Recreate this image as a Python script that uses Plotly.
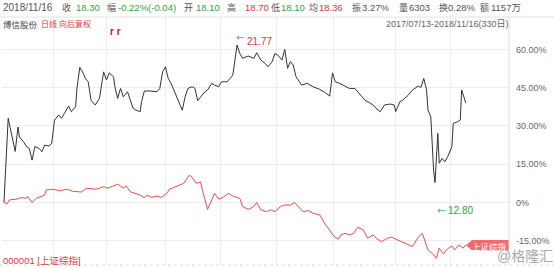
import plotly.graph_objects as go

# ---------------- data ----------------
stock_days = [0, 3, 8, 10, 11, 14, 16, 18, 20, 22, 25, 27, 29, 32, 34, 36, 39, 41, 43, 46, 48, 51, 52, 54,
              56, 58, 60, 62, 65, 66, 68, 71, 73, 75, 78, 79, 81, 83, 85, 88, 90, 92, 94, 97, 98, 100, 104,
              109, 111, 113, 115, 117, 119, 122, 124, 127, 129, 131, 134, 136, 138, 141, 143, 145, 148, 150,
              153, 155, 159, 161, 163, 166, 168, 170, 174, 178, 180, 183, 186, 188, 191, 193, 195, 198, 200,
              202, 204, 206, 208, 212, 216, 220, 225, 229, 232, 234, 236, 239, 243, 246, 250, 254, 257, 261,
              263, 265, 268, 271, 275, 278, 279, 282, 284, 288, 291, 295, 297, 299, 301, 302, 304, 305, 306,
              307, 308, 309, 310, 312, 314, 316, 319, 320, 323, 325, 326, 328, 329]
stock_pct = [0, 33, 20, 29.6, 25.7, 23.8, 21.9, 21.2, 16.6, 21.9, 21.2, 19.9, 22.5, 22.1, 23.2, 32.3, 34.3,
             33, 34.9, 37.8, 35.6, 37.5, 44.7, 53, 51.2, 48.6, 47.3, 40.1, 38.2, 39.1, 40.8, 51.2, 48, 50.8,
             49.3, 45.4, 40.8, 44.7, 41.4, 43.4, 40.1, 36.9, 36.2, 35.6, 39.5, 43.7, 43.7, 43.4, 44.7, 51.2,
             53.2, 48.6, 46.7, 42.8, 40.1, 36.2, 41.4, 44.7, 45.4, 44.7, 39.9, 42.1, 43.4, 44.1, 46.7, 46,
             45.4, 47.3, 47.3, 48.6, 49.9, 61.7, 58.4, 56.5, 57.4, 56.5, 58.7, 55.8, 54.5, 53.2, 55.2, 58.4,
             57.8, 55.8, 60, 52.6, 55.2, 53.9, 49.3, 46, 46.7, 45.4, 44.3, 43, 41.7, 50.8, 47.3, 46.7, 45.4,
             44.7, 44.7, 42.1, 40.1, 38.9, 38.2, 36.9, 35.6, 38.2, 38.6, 38.2, 35.6, 39.5, 40.1, 42.1, 44.1,
             45.6, 45.1, 48.6, 44.1, 36.2, 33.6, 23.2, 12.7, 7.8, 19.3, 27.1, 15.4, 17.3, 16, 17.9, 21.9, 31,
             31.6, 32.3, 44.1, 40.1, 38.9]

index_days = [0, 2, 4, 9, 13, 15, 17, 20, 23, 27, 29, 30, 35, 40, 45, 49, 55, 59, 65, 68, 71, 74, 77, 81,
              85, 87, 90, 93, 97, 100, 102, 105, 109, 112, 116, 118, 123, 128, 132, 134, 137, 140, 142, 145,
              148, 150, 153, 156, 160, 163, 168, 170, 174, 178, 180, 183, 187, 190, 193, 197, 200, 204, 207,
              210, 213, 217, 220, 225, 229, 232, 234, 238, 240, 243, 246, 249, 252, 256, 259, 263, 265, 269,
              273, 276, 280, 283, 287, 291, 295, 298, 300, 302, 305, 308, 310, 313, 315, 319, 321, 324, 327,
              329]
index_pct = [0, -0.6, 1, 1.3, 2, 1.6, 2.3, 0, 1.6, 2.3, 2.9, 4.9, 5.2, 4.6, 5.2, 4.4, 4.1, 5.6, 5.2, 5.6,
             6.2, 5.6, 6.2, 7.2, 5.6, 6.5, 4.2, 3.6, 2.9, 1.9, 2.9, 2, 2.5, 2, 3.6, 5.2, 6.5, 7.5, 10.7, 9.9,
             7.5, 8.1, 3.6, -2.7, 1, 3.6, 1.3, 2, 3.6, 2.5, 1.6, -1.6, -2.7, -1.6, 0, -2.9, -3.6, -2.9, -3.6,
             -1.6, -1, -1, 0, -1.6, -3.6, -3.2, -4.2, -4.9, -8.8, -10.8, -12.7, -14.4, -12.7, -12.1, -12.7,
             -12.1, -9.7, -10.8, -14, -12.7, -14, -15.4, -14, -13.6, -14.7, -15.4, -16.3, -17.3, -13.6,
             -12.1, -15.4, -18.6, -19.9, -21.9, -17.9, -20.2, -18.6, -17, -18.6, -16.6, -17.9, -16.6]

y_ticks = [60, 45, 30, 15, 0, -15]
y_tick_labels = ["60.00%", "45.00%", "30.00%", "15.00%", "0%", "-15.00%"]
x_grid_days = [35, 73, 115, 154, 194, 235, 279, 318]

# ---------------- layout helpers ----------------
W, H = 554, 268
L, R, T, B = 2, 509, 17, 265


def px(x):
    return (x - L) / (R - L)


def py(y):
    return (B - y) / (B - T)


GRAY = "#555555"
GREEN = "#35a03c"
RED = "#e8333e"
TEAL = "#4aa8b8"
FONT = "Liberation Sans, Arial, Noto Sans CJK SC, sans-serif"
CJK = "Noto Sans CJK SC, sans-serif"
ARROW_FONT = "DejaVu Sans, sans-serif"

fig = go.Figure()
fig.add_trace(go.Scatter(x=index_days, y=index_pct, mode="lines",
                         line=dict(color="#ee4a4f", width=1), hoverinfo="skip"))
fig.add_trace(go.Scatter(x=stock_days, y=stock_pct, mode="lines",
                         line=dict(color="#333333", width=1), hoverinfo="skip"))

ann = []


def text(x, y, s, color=GRAY, size=10, anchor="left", bold=False, family=FONT):
    if bold:
        s = "<b>" + s + "</b>"
    ann.append(dict(x=px(x), y=py(y), xref="paper", yref="paper", text=s, showarrow=False,
                    xanchor=anchor, yanchor="middle", borderpad=0,
                    font=dict(family=family, size=size, color=color)))


# header row 1: (label, x, value, x, value colour)
text(2, 8, "2018/11/16", GRAY, 10)
row1 = [("收", 61, "18.30", 75, GREEN), ("幅", 106, "-0.22%(-0.04)", 117, GREEN),
        ("开", 183, "18.10", 195, GREEN), ("高", 226, "18.70", 244, RED),
        ("低", 270, "18.10", 280, GREEN), ("均", 308, "18.36", 318, RED),
        ("振", 351, "3.27%", 361, GRAY), ("量", 398, "6303", 408, GRAY),
        ("换", 438, "0.28%", 447, GRAY), ("额", 479, "1157万", 490, GRAY)]
for lab, lx, val, vx, c in row1:
    text(lx, 8, lab, GRAY, 9, family=CJK)
    text(vx, 8, val, c, 9.5)

# header row 2
text(2, 24, "博信股份", "#444444", 8.5, family=CJK)
text(40, 24, "日线", RED, 8, family=CJK)
text(58, 24, "向后复权", RED, 8, family=CJK)
text(509, 24, "2017/07/13-2018/11/16(330日)", "#666666", 9, anchor="right")
text(109, 32, "r r", "#c8143c", 10, bold=True)

# bottom labels
text(2, 260, "000001 [上证综指]", RED, 9.5)
text(496, 256, "@格隆汇", "#a8a8a8", 14)

# max / min price labels attached to the stock line
imax = stock_pct.index(max(stock_pct))
later = stock_pct[1:]
imin = 1 + later.index(min(later))
for s, c, xs, ys, fam in [("←", TEAL, -2, 8, ARROW_FONT), ("21.77", RED, 9, 3.5, FONT)]:
    ann.append(dict(x=stock_days[imax], y=stock_pct[imax], xref="x", yref="y", text=s,
                    showarrow=False, xanchor="left", yanchor="middle", xshift=xs, yshift=ys,
                    borderpad=0, font=dict(family=fam, size=10, color=c)))
for s, c, xs, fam in [("←", TEAL, 1, ARROW_FONT), ("12.80", GREEN, 12, FONT)]:
    ann.append(dict(x=stock_days[imin], y=stock_pct[imin], xref="x", yref="y", text=s,
                    showarrow=False, xanchor="left", yanchor="middle", xshift=xs, yshift=-28,
                    borderpad=0, font=dict(family=fam, size=10, color=c)))

# badge at end of index line
bx0, bx1, by0, by1 = 466, 509, 240, 250.5
path = "M {} {} L {} {} L {} {} L {} {} L {} {} Z".format(
    px(bx0), py((by0 + by1) / 2), px(bx0 + 6), py(by0), px(bx1), py(by0), px(bx1), py(by1),
    px(bx0 + 6), py(by1))
shapes = [
    dict(type="path", path=path, xref="paper", yref="paper", fillcolor="#f26a6e", line=dict(width=0)),
    dict(type="line", xref="paper", yref="paper", x0=px(0), x1=px(554), y0=py(T), y1=py(T),
         line=dict(color="#e2e2e2", width=1)),
    dict(type="line", xref="paper", yref="paper", x0=px(R), x1=px(R), y0=py(T), y1=py(B),
         line=dict(color="#dddddd", width=1)),
    dict(type="line", xref="paper", yref="paper", x0=px(0), x1=px(554), y0=py(B), y1=py(B),
         line=dict(color="#dddddd", width=1, dash="dot")),
]
text(489, 245.5, "上证综指", "#ffffff", 8.5, anchor="center", family=CJK)

fig.update_layout(
    width=W, height=H,
    margin=dict(l=L, r=W - R, t=T, b=H - B),
    paper_bgcolor="white", plot_bgcolor="white",
    showlegend=False,
    annotations=ann, shapes=shapes,
    xaxis=dict(range=[-1.4, 359.7], tickvals=x_grid_days, showticklabels=False, ticks="",
               showgrid=True, gridcolor="#ececec", gridwidth=1, zeroline=False, showline=False,
               fixedrange=True),
    yaxis=dict(range=[-24.5, 72.7], side="right", tickvals=y_ticks, ticktext=y_tick_labels,
               ticks="", showgrid=True, gridcolor="#ececec", gridwidth=1, zeroline=False,
               showline=False, ticklabelstandoff=6,
               tickfont=dict(family=FONT, size=9, color="#666666"), fixedrange=True),
)

fig.write_html("out.html", config={"displayModeBar": False})
